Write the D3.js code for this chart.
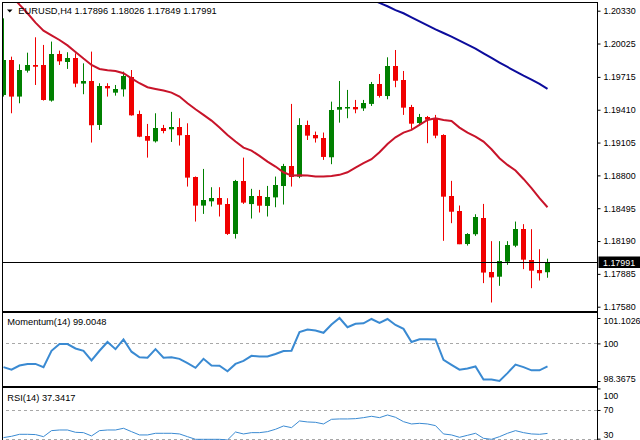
<!DOCTYPE html>
<html>
<head>
<meta charset="utf-8">
<script src="https://cdn.jsdelivr.net/npm/d3@7"></script>
<style>
  body { margin: 0; background: #fff; }
  svg { display: block; font-family: "Liberation Sans", Arial, sans-serif; }
  .axis text { font-size: 8.9px; fill: #000; }
  .axis line { stroke: #000; }
  .axis path { display: none; }
</style>
</head>
<body>
<div id="container"></div>
<script>
const width = 640;
const height = 440;

//------------------DATA------------------//
const symbol = "EURUSD,H4";
const lastBar = ["1.17896", "1.18026", "1.17849", "1.17991"];

const open = [1.19547,1.19872,1.19532,1.19773,1.19826,1.19826,1.19495,1.19925,1.19857,1.19894,
1.19656,1.19680,1.19269,1.19631,1.19569,1.19600,1.19718,1.19371,1.19167,1.19117,
1.19244,1.19229,1.19247,1.19176,1.18783,1.18520,1.18560,1.18591,1.18535,1.18257,
1.18749,1.18535,1.18610,1.18520,1.18597,1.18705,1.18891,1.18789,1.19269,1.19176,
1.19145,1.18969,1.19408,1.19430,1.19436,1.19420,1.19464,1.19649,1.19538,1.19817,
1.19687,1.19439,1.19290,1.19346,1.19331,1.19176,1.18610,1.18473,1.18164,1.18251,
1.18405,1.17904,1.17854,1.18000,1.18145,1.18300,1.18015,1.17922,1.17896];

const high = [1.20259,1.19903,1.19832,1.19940,1.20083,1.20012,1.20043,1.19959,1.19944,1.19934,
1.19841,1.19950,1.19656,1.19656,1.19640,1.19764,1.19779,1.19402,1.19278,1.19377,
1.19269,1.19390,1.19331,1.19284,1.18790,1.18860,1.18690,1.18690,1.18588,1.18758,
1.18965,1.18675,1.18665,1.18702,1.18789,1.18907,1.19464,1.19331,1.19309,1.19207,
1.19198,1.19485,1.19677,1.19594,1.19501,1.19501,1.19668,1.19742,1.19897,1.19965,
1.19770,1.19455,1.19371,1.19352,1.19362,1.19182,1.18749,1.18520,1.18263,1.18439,
1.18535,1.18189,1.18189,1.18189,1.18371,1.18347,1.18300,1.18114,1.18026];

const low = [1.19532,1.19377,1.19470,1.19755,1.19640,1.19495,1.19485,1.19826,1.19789,1.19619,
1.19554,1.19105,1.19222,1.19532,1.19541,1.19532,1.19355,1.19155,1.18965,1.19105,
1.19191,1.19111,1.19077,1.18696,1.18371,1.18442,1.18511,1.18418,1.18247,1.18213,
1.18535,1.18399,1.18455,1.18418,1.18504,1.18529,1.18696,1.18774,1.19129,1.19105,
1.18944,1.18904,1.19290,1.19331,1.19377,1.19399,1.19445,1.19523,1.19507,1.19619,
1.19362,1.19232,1.19269,1.19099,1.19145,1.18192,1.18356,1.18161,1.18148,1.18238,
1.17799,1.17619,1.17774,1.17969,1.18133,1.17929,1.17752,1.17823,1.17849];

const close = [1.19872,1.19532,1.19779,1.19826,1.19810,1.19501,1.19928,1.19857,1.19894,1.19656,
1.19680,1.19269,1.19631,1.19609,1.19603,1.19724,1.19362,1.19160,1.19123,1.19241,
1.19216,1.19250,1.19170,1.18780,1.18517,1.18572,1.18591,1.18529,1.18257,1.18749,
1.18548,1.18610,1.18520,1.18603,1.18712,1.18891,1.18789,1.19269,1.19170,1.19145,
1.18969,1.19408,1.19433,1.19436,1.19414,1.19470,1.19649,1.19538,1.19817,1.19680,
1.19430,1.19284,1.19346,1.19321,1.19167,1.18603,1.18464,1.18164,1.18257,1.18411,
1.17898,1.17854,1.18000,1.18155,1.18300,1.18015,1.17916,1.17892,1.17991];

// red moving average, one value per bar
const maFast = [1.20553,1.20470,1.20386,1.20306,1.20219,1.20145,1.20101,1.20058,1.20008,1.19947,
1.19885,1.19826,1.19789,1.19776,1.19770,1.19749,1.19702,1.19656,1.19619,1.19603,
1.19588,1.19569,1.19532,1.19470,1.19414,1.19362,1.19309,1.19244,1.19176,1.19114,
1.19058,1.19030,1.18981,1.18928,1.18882,1.18829,1.18798,1.18801,1.18798,1.18789,
1.18789,1.18795,1.18805,1.18829,1.18873,1.18913,1.18950,1.19015,1.19092,1.19154,
1.19198,1.19222,1.19269,1.19315,1.19331,1.19315,1.19306,1.19244,1.19198,1.19160,
1.19114,1.19043,1.18959,1.18897,1.18845,1.18767,1.18681,1.18588,1.18504];

// blue moving average, visible from bar 46 on
const maSlowFrom = 46;
const maSlow = [1.20439,1.20402,1.20371,1.20336,1.20306,1.20268,1.20231,1.20194,1.20157,1.20123,
1.20089,1.20052,1.20015,1.19978,1.19934,1.19891,1.19848,1.19807,1.19767,1.19727,
1.19690,1.19650,1.19603];

const momentum = [98.97,98.86,99.04,99.11,99.11,98.97,99.68,99.97,99.97,99.78,
99.68,99.26,99.68,100.06,99.75,100.17,99.64,99.40,99.38,99.75,
99.38,99.40,99.33,99.14,98.94,99.33,99.04,99.03,98.79,99.11,
99.24,99.46,99.43,99.43,99.54,99.67,99.68,100.49,100.60,100.56,
100.46,100.82,101.1026,100.70,100.85,100.87,101.06,100.89,101.06,100.80,
100.63,100.06,100.18,100.18,100.17,99.29,99.07,98.86,98.91,99.00,
98.43,98.43,98.3675,98.71,99.08,98.97,98.83,98.83,99.0048];

const rsi = [31.5,33.3,36.1,36.1,35.7,32.8,41.2,42.1,42.1,38.9,
38.4,33.8,41.2,42.1,42.1,44.5,39.8,35.2,35.2,37.5,
37.5,37.5,36.6,32.8,29.1,29.1,29.1,29.1,28.2,39.3,
36.6,38.4,38.4,39.8,43.1,47.7,45.4,54.7,53.3,52.8,
50.5,57.0,57.5,57.5,57.9,59.3,61.2,59.3,63.0,59.8,
53.7,50.5,51.4,50.5,48.2,36.6,35.2,31.9,34.7,37.5,
30.5,29.1,32.8,37.5,41.2,38.4,36.6,36.1,37.3417];

const priceTicks = [1.20330,1.20025,1.19715,1.19410,1.19105,1.18800,1.18495,1.18190,1.17885,1.17580];
const momTicks = [101.1026, 100, 98.3675];
const rsiTicks = [100, 70, 30];
const bid = 1.17991;

//------------------SVG------------------//
const svg = d3.select("#container").append("svg")
  .attr("width", width)
  .attr("height", height);

svg.append("rect").attr("width", width).attr("height", height).attr("fill", "#fff");

const axisX = 597.5;
const panels = {
  main: {top: 2.5, bottom: 311.5},
  mom: {top: 312.5, bottom: 386.5},
  rsi: {top: 387.5, bottom: 470}
};

//------------------SCALES------------------//
const bars = d3.range(open.length);
const x = d3.scaleLinear().domain([0, open.length - 1]).range([3.5, 3.5 + 8 * (open.length - 1)]);
const y = d3.scaleLinear().domain([1.17580, 1.20330]).range([306.7, 10.7]);
const yMom = d3.scaleLinear().domain([98.3675, 101.1026]).range([381, 318]);
const yRsi = d3.scaleLinear().domain([0, 100]).range([460.2, 388.45]);

// clip paths for each panel
const defs = svg.append("defs");
Object.keys(panels).forEach(function(k) {
  defs.append("clipPath").attr("id", "clip-" + k)
    .append("rect")
    .attr("x", 3).attr("y", panels[k].top + 0.5)
    .attr("width", axisX - 3).attr("height", panels[k].bottom - panels[k].top - 1);
});

//------------------MAIN PANEL------------------//
const main = svg.append("g").attr("clip-path", "url(#clip-main)");

const upCol = "#008000";
const downCol = "#f00000";
const col = function(i) { return close[i] >= open[i] ? upCol : downCol; };

main.selectAll(".wick")
  .data(bars)
  .enter()
  .append("line")
  .attr("class", "wick")
  .attr("x1", function(i) { return x(i); })
  .attr("x2", function(i) { return x(i); })
  .attr("y1", function(i) { return y(high[i]); })
  .attr("y2", function(i) { return y(low[i]); })
  .attr("stroke", col)
  .attr("stroke-width", 1);

main.selectAll(".body")
  .data(bars)
  .enter()
  .append("rect")
  .attr("class", "body")
  .attr("x", function(i) { return x(i) - 2.5; })
  .attr("width", 5)
  .attr("y", function(i) { return Math.round(y(Math.max(open[i], close[i]))); })
  .attr("height", function(i) { return Math.max(1.5, Math.abs(y(open[i]) - y(close[i]))); })
  .attr("fill", col);

const maLine = d3.line()
  .x(function(d) { return x(d.i); })
  .y(function(d) { return y(d.v); });

main.append("path")
  .attr("d", maLine(maFast.map(function(v, i) { return {i: i, v: v}; })))
  .attr("fill", "none")
  .attr("stroke", "#c8142a")
  .attr("stroke-width", 2);

main.append("path")
  .attr("d", maLine(maSlow.map(function(v, k) { return {i: k + maSlowFrom, v: v}; })))
  .attr("fill", "none")
  .attr("stroke", "#0c0c9c")
  .attr("stroke-width", 2);

// bid line
main.append("line")
  .attr("x1", 0).attr("x2", axisX)
  .attr("y1", Math.round(y(bid)) + 0.5).attr("y2", Math.round(y(bid)) + 0.5)
  .attr("stroke", "#000");

//------------------MOMENTUM------------------//
const mom = svg.append("g").attr("clip-path", "url(#clip-mom)");

mom.append("line")
  .attr("x1", 0).attr("x2", axisX)
  .attr("y1", Math.round(yMom(100)) + 0.5).attr("y2", Math.round(yMom(100)) + 0.5)
  .attr("stroke", "#a8a8a8").attr("stroke-dasharray", "3,3");

mom.append("path")
  .attr("d", d3.line().x(function(d, i) { return x(i); }).y(function(d) { return yMom(d); })(momentum))
  .attr("fill", "none")
  .attr("stroke", "#3a8ad2")
  .attr("stroke-width", 2);

//------------------RSI------------------//
const rs = svg.append("g").attr("clip-path", "url(#clip-rsi)");

[70, 30].forEach(function(l) {
  rs.append("line")
    .attr("x1", 0).attr("x2", axisX)
    .attr("y1", Math.round(yRsi(l)) + 0.5).attr("y2", Math.round(yRsi(l)) + 0.5)
    .attr("stroke", "#a8a8a8").attr("stroke-dasharray", "3,3");
});

rs.append("path")
  .attr("d", d3.line().x(function(d, i) { return x(i); }).y(function(d) { return yRsi(d); })(rsi))
  .attr("fill", "none")
  .attr("stroke", "#3a8ad2")
  .attr("stroke-width", 1);

//------------------BORDERS------------------//
Object.keys(panels).forEach(function(k) {
  svg.append("rect")
    .attr("x", 2.5).attr("y", panels[k].top)
    .attr("width", axisX - 2.5).attr("height", panels[k].bottom - panels[k].top)
    .attr("fill", "none").attr("stroke", "#000").attr("stroke-width", 1);
});

//------------------AXES------------------//
svg.append("g")
  .attr("class", "axis")
  .attr("transform", "translate(" + axisX + ",0)")
  .call(d3.axisRight(y).tickValues(priceTicks).tickSize(3).tickPadding(3).tickFormat(d3.format(".5f")));

svg.append("g")
  .attr("class", "axis")
  .attr("transform", "translate(" + axisX + ",0)")
  .call(d3.axisRight(yMom).tickValues(momTicks).tickSize(3).tickPadding(3)
    .tickFormat(function(d) { return d === 100 ? "100" : d3.format(".4f")(d); }))
  .selectAll("text")
  .attr("dy", function(d) { return d === 101.1026 ? "0.62em" : d === 98.3675 ? "0.1em" : "0.32em"; });

svg.append("g")
  .attr("class", "axis")
  .attr("transform", "translate(" + axisX + ",0)")
  .call(d3.axisRight(yRsi).tickValues(rsiTicks).tickSize(3).tickPadding(3))
  .selectAll("text")
  .attr("dy", function(d) { return d === 100 ? "1.1em" : d === 30 ? "-0.15em" : "0.32em"; });

// current price box
const bidY = Math.round(y(bid)) + 0.5;
svg.append("rect")
  .attr("x", axisX + 1).attr("y", bidY - 6)
  .attr("width", width - axisX).attr("height", 11.5)
  .attr("fill", "#000");
svg.append("text")
  .attr("x", 603).attr("y", bidY)
  .attr("dy", "0.34em")
  .style("font-size", "8.9px")
  .attr("fill", "#fff")
  .text(d3.format(".5f")(bid));

//------------------LABELS------------------//
svg.append("path")
  .attr("d", "M7,9.5 L12.5,9.5 L9.75,12.5 Z")
  .attr("fill", "#000");

svg.append("text")
  .attr("x", 18.3).attr("y", 14)
  .style("font-size", "9.3px")
  .text(symbol + "  " + lastBar.join(" "));

svg.append("text")
  .attr("x", 7.3).attr("y", 325)
  .style("font-size", "9.3px")
  .text("Momentum(14) " + d3.format(".4f")(momentum[momentum.length - 1]));

svg.append("text")
  .attr("x", 7.3).attr("y", 401)
  .style("font-size", "9.3px")
  .text("RSI(14) " + d3.format(".4f")(rsi[rsi.length - 1]));
</script>
</body>
</html>
